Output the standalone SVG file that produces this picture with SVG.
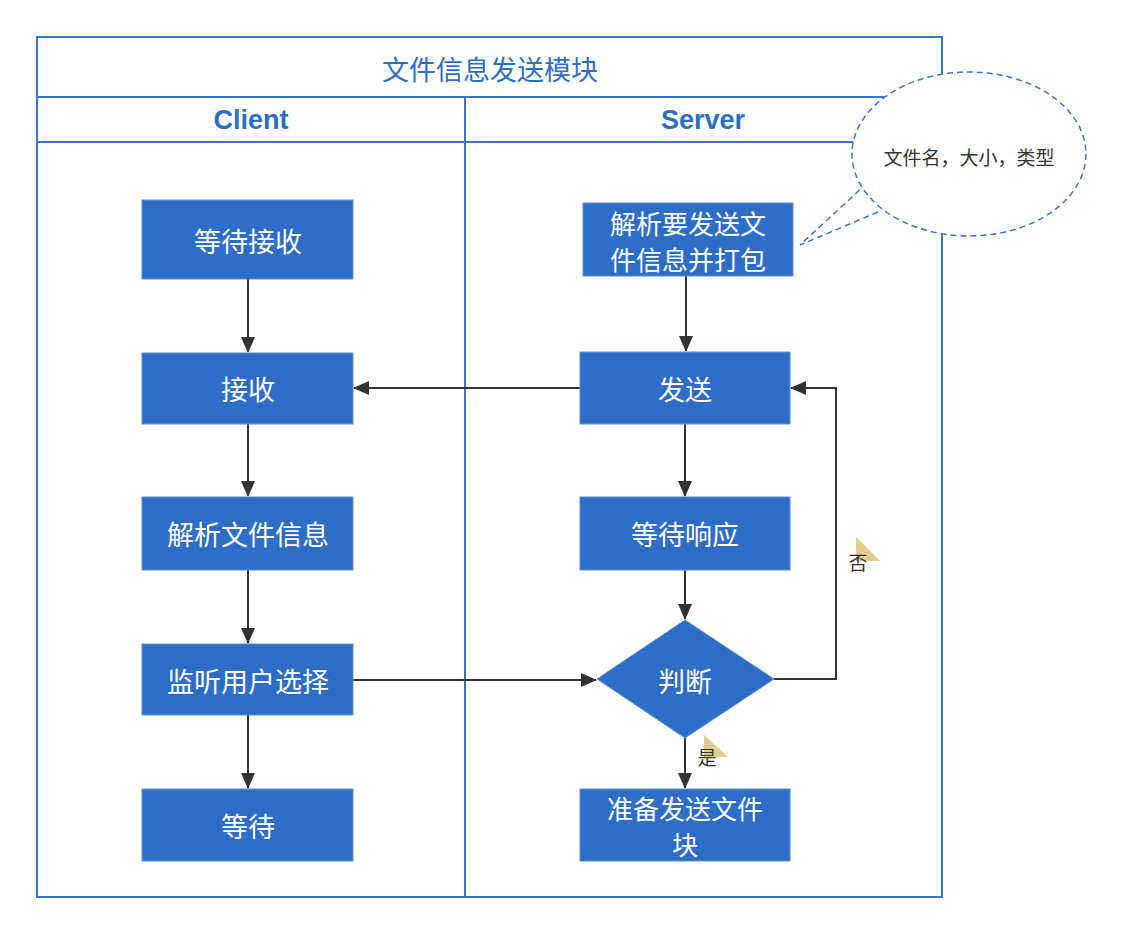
<svg xmlns="http://www.w3.org/2000/svg" width="1124" height="934" viewBox="0 0 1124 934">
<style>
.frame{fill:none;stroke:#3F74C6;stroke-width:2}
.node{fill:#2E6DC6;stroke:#5B8FD6;stroke-width:1}
.nt{fill:#fff;font-family:"Noto Sans CJK SC","Liberation Sans",sans-serif;font-size:27px;text-anchor:middle;dominant-baseline:central}
.nt2{font-size:26px}
.hd{fill:#2E6DC6;font-family:"Liberation Sans",Arial,sans-serif;font-size:27px;font-weight:bold;text-anchor:middle;dominant-baseline:central}
.ttl{fill:#2E6DC6;font-family:"Noto Sans CJK SC",sans-serif;font-size:27px;text-anchor:middle;dominant-baseline:central}
.edge{fill:none;stroke:#333;stroke-width:2}
.lbl{fill:#333;font-family:"Noto Sans CJK SC",sans-serif;font-size:19px;text-anchor:middle;dominant-baseline:central}
.pin{fill:#E2CC8A}
</style>
<defs>
<marker id="arr" viewBox="0 0 16 14" refX="15" refY="7" markerWidth="16" markerHeight="14" markerUnits="userSpaceOnUse" orient="auto">
<path d="M0,0 L16,7 L0,14 Z" fill="#333"/>
</marker>
</defs>
<rect width="1124" height="934" fill="#fff"/>
<g id="pool">
<rect class="frame" x="37" y="37" width="905" height="860"/>
<line class="frame" x1="37" y1="97" x2="942" y2="97"/>
<line class="frame" x1="37" y1="142" x2="942" y2="142"/>
<line class="frame" x1="465" y1="97" x2="465" y2="897"/>
<text class="ttl" x="490" y="68">文件信息发送模块</text>
<text class="hd" x="251" y="120">Client</text>
<text class="hd" x="703" y="120">Server</text>
</g>
<g id="connectors">
<line class="edge" x1="248" y1="279" x2="248" y2="352" marker-end="url(#arr)"/>
<line class="edge" x1="248" y1="424" x2="248" y2="496" marker-end="url(#arr)"/>
<line class="edge" x1="248" y1="570" x2="248" y2="643" marker-end="url(#arr)"/>
<line class="edge" x1="248" y1="715" x2="248" y2="788" marker-end="url(#arr)"/>
<line class="edge" x1="686" y1="276" x2="686" y2="351" marker-end="url(#arr)"/>
<line class="edge" x1="685" y1="424" x2="685" y2="496" marker-end="url(#arr)"/>
<line class="edge" x1="685" y1="570" x2="685" y2="619" marker-end="url(#arr)"/>
<line class="edge" x1="685" y1="738" x2="685" y2="788" marker-end="url(#arr)"/>
<line class="edge" x1="580" y1="388" x2="354" y2="388" marker-end="url(#arr)"/>
<line class="edge" x1="353" y1="680" x2="596" y2="680" marker-end="url(#arr)"/>
<polyline class="edge" points="774,679 836,679 836,388 791,388" marker-end="url(#arr)"/>
<polygon class="pin" points="704,735 728,757 704,757"/>
<text class="lbl" x="707" y="756">是</text>
<polygon class="pin" points="856,537 880,561 856,561"/>
<text class="lbl" x="858" y="561">否</text>
</g>
<g id="n1"><rect class="node" x="142" y="200" width="211" height="79"/><text class="nt" x="248" y="240">等待接收</text></g>
<g id="n2"><rect class="node" x="142" y="353" width="211" height="71"/><text class="nt" x="248" y="388">接收</text></g>
<g id="n3"><rect class="node" x="142" y="497" width="211" height="73"/><text class="nt" x="248" y="533">解析文件信息</text></g>
<g id="n4"><rect class="node" x="142" y="644" width="211" height="71"/><text class="nt" x="248" y="680">监听用户选择</text></g>
<g id="n5"><rect class="node" x="142" y="789" width="211" height="72"/><text class="nt" x="248" y="825">等待</text></g>
<g id="s1"><rect class="node" x="583" y="203" width="210" height="73"/><text class="nt nt2"><tspan x="688" y="222">解析要发送文</tspan><tspan x="688" y="258">件信息并打包</tspan></text></g>
<g id="s2"><rect class="node" x="580" y="352" width="210" height="72"/><text class="nt" x="685" y="388">发送</text></g>
<g id="s3"><rect class="node" x="580" y="497" width="210" height="73"/><text class="nt" x="685" y="533">等待响应</text></g>
<g id="s4"><polygon class="node" points="685,620 774,679 685,738 597,679" stroke="none"/><text class="nt" x="685" y="680">判断</text></g>
<g id="s5"><rect class="node" x="580" y="789" width="210" height="72"/><text class="nt nt2"><tspan x="685" y="807">准备发送文件</tspan><tspan x="685" y="843">块</tspan></text></g>
<g id="note">
<path d="M878,212 L800,245 L864,186" fill="#fff" stroke="#3F74C6" stroke-width="1.5" stroke-dasharray="6,4"/>
<ellipse cx="969" cy="154" rx="117" ry="82" fill="#fff" stroke="#3F74C6" stroke-width="1.5" stroke-dasharray="6,4"/>
<text class="lbl" x="969" y="156">文件名，大小，类型</text>
</g>
</svg>
